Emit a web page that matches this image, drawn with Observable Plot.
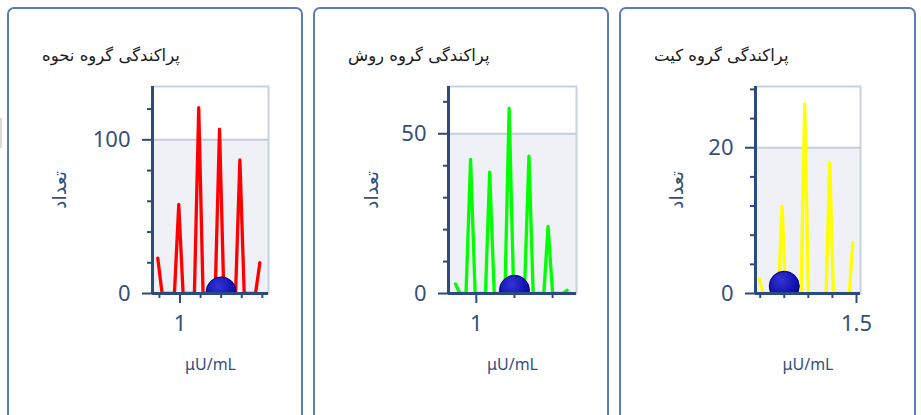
<!DOCTYPE html>
<html>
<head>
<meta charset="utf-8">
<script src="https://cdn.jsdelivr.net/npm/d3@7"></script>
<script src="https://cdn.jsdelivr.net/npm/@observablehq/plot@0.6"></script>
<style>
  html, body { margin: 0; padding: 0; background: #ffffff; width: 921px; height: 415px; overflow: hidden; }
  .card { position: absolute; top: 7px; height: 430px; box-sizing: border-box; border: 2px solid #5a7db5; border-radius: 7px; background: #ffffff; }
  .title { position: absolute; top: 46px; font-family: "DejaVu Sans", sans-serif; font-size: 16.5px; color: #1a1a1a; white-space: nowrap; direction: rtl; }
  .chart { position: absolute; top: 0; }
  .edge { position: absolute; left: 0; top: 118px; width: 2px; height: 30px; background: #d9d9d9; }
</style>
</head>
<body>
<div class="edge"></div>
<div id="root"></div>
<script>
// ---- data ----
const panelTitles = ["پراکندگی گروه نحوه", "پراکندگی گروه روش", "پراکندگی گروه کیت"];
const yLabel = "تعداد";
const xLabel = "μU/mL";
const lineColors = ["#ff0000", "#00ff00", "#ffff00"];

// نحوه
const nahveX     = [0.892, 0.913, 0.973, 0.994, 1.015, 1.070, 1.091, 1.112, 1.171, 1.192, 1.213, 1.270, 1.291, 1.312, 1.367, 1.388];
const nahveCount = [23,    0,     0,     58,    0,     0,     121,   0,     0,     107,   0,     0,     87,    0,     0,     20];
// روش
const raveshX     = [0.9455, 0.957, 0.973, 0.985, 0.997, 1.024, 1.035, 1.047, 1.075, 1.086, 1.098, 1.126, 1.138, 1.149, 1.177, 1.188, 1.200, 1.227, 1.238];
const raveshCount = [3,      0,     0,     42,    0,     0,     38,    0,     0,     58,    0,     0,     43,    0,     0,     21,    0,     0,     1];
// کیت
const kitX     = [1.097, 1.112, 1.176, 1.191, 1.206, 1.270, 1.285, 1.300, 1.374, 1.389, 1.404, 1.470, 1.485];
const kitCount = [2,     0,     0,     12,    0,     0,     26,    0,     0,     18,    0,     0,     7];

const markerX = [1.2, 1.1, 1.2];
const markerY = [1, 1, 1];

const xDomains = [[0.8664, 1.430], [0.9271, 1.2626], [1.0806, 1.5166]];
const yDomains = [[0, 134.7], [0, 64.8], [0, 28.4]];
const xMajorTicks = [[1], [1], [1.5]];
const xMinorTicks = [[0.9, 1.1, 1.2, 1.3, 1.4], [1.1, 1.2], [1.1, 1.2, 1.3, 1.4]];
const yMajorTicks = [[0, 100], [0, 50], [0, 20]];
const yMinorTicks = [[20, 40, 60, 80, 120], [10, 20, 30, 40, 60], [4, 8, 12, 16, 24, 28]];

const seriesX = [nahveX, raveshX, kitX];
const seriesY = [nahveCount, raveshCount, kitCount];

// ---- layout ----
const cardLefts = [7, 313, 619];
const cardWidths = [296, 296, 297];
const marginsLR = [[145, 35], [135, 33], [136, 56]];
const yLabelOffsets = [100, 84, 86];
const axisColor = "#2b4a7d";
const textColor = "#34507a";
const root = document.getElementById("root");

for (let i = 0; i < 3; i++) {
  const card = document.createElement("div");
  card.className = "card";
  card.style.left = cardLefts[i] + "px";
  card.style.width = cardWidths[i] + "px";
  root.appendChild(card);

  const title = document.createElement("div");
  title.className = "title";
  title.style.left = (cardLefts[i] + 35) + "px";
  title.textContent = panelTitles[i];
  root.appendChild(title);

  const data = seriesX[i].map((x, j) => ({x, y: seriesY[i][j]}));
  const marker = [{x: markerX[i], y: markerY[i]}];
  const bandTop = yMajorTicks[i][1];

  const chart = Plot.plot({
    width: cardWidths[i],
    height: 400,
    marginLeft: marginsLR[i][0],
    marginRight: marginsLR[i][1],
    marginTop: 86,
    marginBottom: 107,
    x: {type: "linear", domain: xDomains[i]},
    y: {type: "linear", domain: yDomains[i]},
    style: {fontFamily: "'Noto Sans', 'DejaVu Sans', sans-serif", fontSize: "22px", color: textColor, background: "transparent", overflow: "visible"},
    marks: [
      Plot.rect([bandTop], {y1: 0, y2: d => d, fill: "#eff1f6"}),
      Plot.gridY([bandTop], {stroke: "#c3cedd", strokeOpacity: 1, strokeWidth: 2}),
      Plot.frame({stroke: "#c7d1df", strokeWidth: 2}),
      Plot.line(data, {x: "x", y: "y", stroke: lineColors[i], strokeWidth: 3.3, clip: true}),
      Plot.dot(marker, {x: "x", y: "y", r: 15, fill: `url(#ball${i})`, stroke: "#00007a", strokeWidth: 1, clip: true}),
      Plot.ruleY([0], {stroke: axisColor, strokeWidth: 3}),
      Plot.ruleX([xDomains[i][0]], {stroke: axisColor, strokeWidth: 3}),
      Plot.axisY(yMajorTicks[i], {tickSize: 10, tickPadding: 12, stroke: axisColor, strokeWidth: 2, fill: textColor, tickFormat: d => String(d), label: yLabel, labelAnchor: "center", labelOffset: yLabelOffsets[i], labelArrow: "none"}),
      Plot.axisY(yMinorTicks[i], {tickSize: 5, stroke: axisColor, strokeWidth: 2, fill: "none", label: null}),
      Plot.axisX(xMajorTicks[i], {tickSize: 10, tickPadding: 12, stroke: axisColor, strokeWidth: 2, fill: textColor, tickFormat: d => String(d), label: xLabel, labelAnchor: "center", labelOffset: 76, labelArrow: "none"}),
      Plot.axisX(xMinorTicks[i], {tickSize: 5, stroke: axisColor, strokeWidth: 2, fill: "none", label: null})
    ]
  });
  chart.classList.add("chart");
  chart.style.position = "absolute";
  chart.style.left = cardLefts[i] + "px";
  chart.style.top = "0px";

  const svg = d3.select(chart);
  const defs = svg.insert("defs", ":first-child");
  const g = defs.append("radialGradient").attr("id", `ball${i}`).attr("cx", "40%").attr("cy", "30%").attr("r", "75%");
  g.append("stop").attr("offset", "0%").attr("stop-color", "#3434d4");
  g.append("stop").attr("offset", "60%").attr("stop-color", "#1414b4");
  g.append("stop").attr("offset", "100%").attr("stop-color", "#00009a");

  svg.selectAll("g[aria-label='y-axis label']").style("font-size", "19px");
  svg.selectAll("g[aria-label='x-axis label']").style("font-size", "16px");
  root.appendChild(chart);
}
</script>
</body>
</html>
